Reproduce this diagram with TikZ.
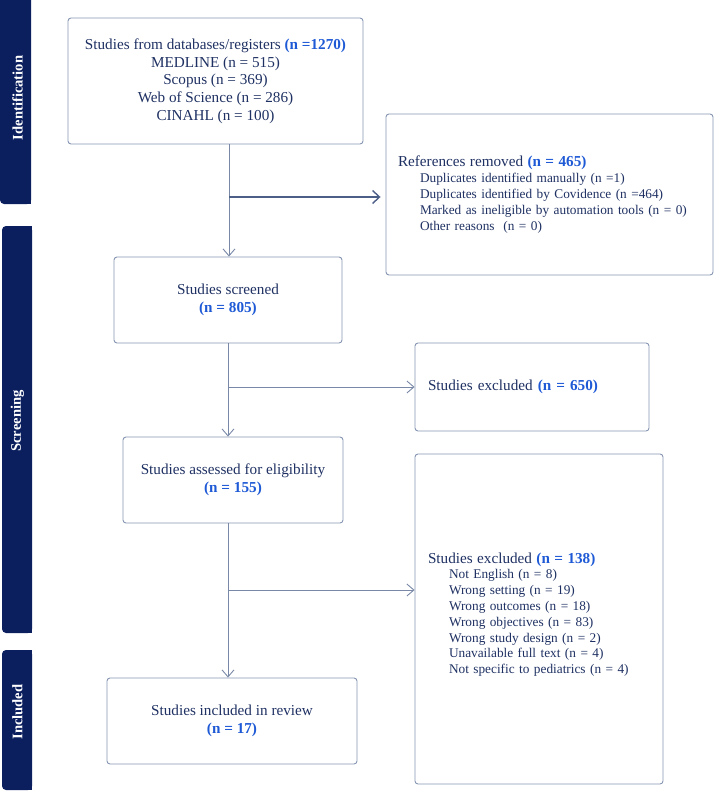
\documentclass[tikz,border=0pt]{standalone}
\usepackage{fontspec}
\setmainfont{Liberation Serif}
\usetikzlibrary{arrows.meta}
\definecolor{barnavy}{HTML}{0B1F5E}
\definecolor{txtnavy}{HTML}{1F3163}
\definecolor{numblue}{HTML}{1F5AD6}
\definecolor{boxline}{HTML}{8696B2}
\definecolor{arrline}{HTML}{7888A6}
\definecolor{darkarr}{HTML}{4C5F87}
\newcommand{\nb}[1]{{\bfseries\color{numblue}#1}}
\tikzset{
  box/.style={draw=boxline, line width=0.9pt, rounded corners=3pt, fill=white,
    text=txtnavy, inner sep=0pt, font=\fontsize{15.2}{17.7}\selectfont, align=center},
  listbox/.style={box, align=left, inner xsep=12pt, font=\fontsize{13.3}{15.8}\selectfont},
  conn/.style={draw=arrline, line width=0.9pt},
  arr/.style={conn, -{Straight Barb[length=7pt,width=12pt,line width=0.9pt]}},
  bararr/.style={draw=darkarr, line width=1.4pt, -{Straight Barb[length=7pt,width=13pt,line width=1.4pt]}},
  barlabel/.style={text=white, font=\bfseries\fontsize{14.6}{16}\selectfont, rotate=90},
  bar/.style={fill=barnavy, rounded corners=4pt},
}
\begin{document}
\begin{tikzpicture}[x=1pt,y=-1pt]
\clip (0,0) rectangle (714,792);
% side bars
\fill[bar] (0,-10) rectangle (31,204);
\fill[barnavy] (16,-10) rectangle (31,204);
\fill[bar] (2,226) rectangle (32,633);
\fill[barnavy] (17,226) rectangle (32,633);
\fill[bar] (2,650) rectangle (32,790);
\fill[barnavy] (17,650) rectangle (32,790);
\node[barlabel] (lid) at (17.5,98) {Identification};
\node[barlabel] (lsc) at (17.5,421) {Screening};
\node[barlabel] (lin) at (17.5,712) {Included};
% boxes
\node[box, minimum width=295pt, minimum height=126pt] (db) at (215.5,81)
  {Studies from databases/registers \nb{(n =1270)}\\ MEDLINE (n = 515)\\ Scopus (n = 369)\\ Web of Science (n = 286)\\ CINAHL (n = 100)};
\node[listbox, text width=303pt, minimum height=161pt] (refs) at (549.5,194.5)
  {{\fontsize{15.2}{17}\selectfont References removed \nb{(n = 465)}}\\
   \hspace*{22pt}Duplicates identified manually (n =1)\\
   \hspace*{22pt}Duplicates identified by Covidence (n =464)\\
   \hspace*{22pt}Marked as ineligible by automation tools (n = 0)\\
   \hspace*{22pt}Other reasons\ \ (n = 0)};
\node[box, minimum width=228pt, minimum height=86pt] (scr) at (228,300)
  {Studies screened\\ \nb{(n = 805)}};
\node[listbox, inner xsep=13pt, text width=208pt, minimum height=88pt, font=\fontsize{15.2}{17}\selectfont] (exc1) at (532,387)
  {Studies excluded \nb{(n = 650)}};
\node[box, minimum width=220pt, minimum height=86pt] (elig) at (233,480)
  {Studies assessed for eligibility\\ \nb{(n = 155)}};
\node[listbox, inner xsep=13pt, text width=222pt, minimum height=330pt] (exc2) at (539,619)
  {{\fontsize{15.2}{17}\selectfont Studies excluded \nb{(n = 138)}}\\
   \hspace*{21pt}Not English (n = 8)\\
   \hspace*{21pt}Wrong setting (n = 19)\\
   \hspace*{21pt}Wrong outcomes (n = 18)\\
   \hspace*{21pt}Wrong objectives (n = 83)\\
   \hspace*{21pt}Wrong study design (n = 2)\\
   \hspace*{21pt}Unavailable full text (n = 4)\\
   \hspace*{21pt}Not specific to pediatrics (n = 4)\\[-4pt]\mbox{}};
\node[box, minimum width=250pt, minimum height=86pt] (incl) at (232,721)
  {Studies included in review\\ \nb{(n = 17)}};
% connectors
\coordinate (top) at ([xshift=1pt]scr.north |- db.south);
\coordinate (j1) at (top |- 0,197);
\coordinate (e1) at ([xshift=-5pt]refs.west |- j1);
\draw[arr] (top) -- ([xshift=1pt]scr.north);
\draw[bararr] (j1) -- (e1);
\draw[arr] (scr.south) -- (scr.south |- elig.north);
\coordinate (j2) at (scr.south |- exc1.west);
\draw[arr] (j2) -- (exc1.west);
\coordinate (e2in) at ([yshift=29pt]exc2.west);
\coordinate (j3) at (scr.south |- e2in);
\draw[arr] (scr.south |- elig.south) -- (scr.south |- incl.north);
\draw[arr] (j3) -- (e2in);
\end{tikzpicture}
\end{document}
